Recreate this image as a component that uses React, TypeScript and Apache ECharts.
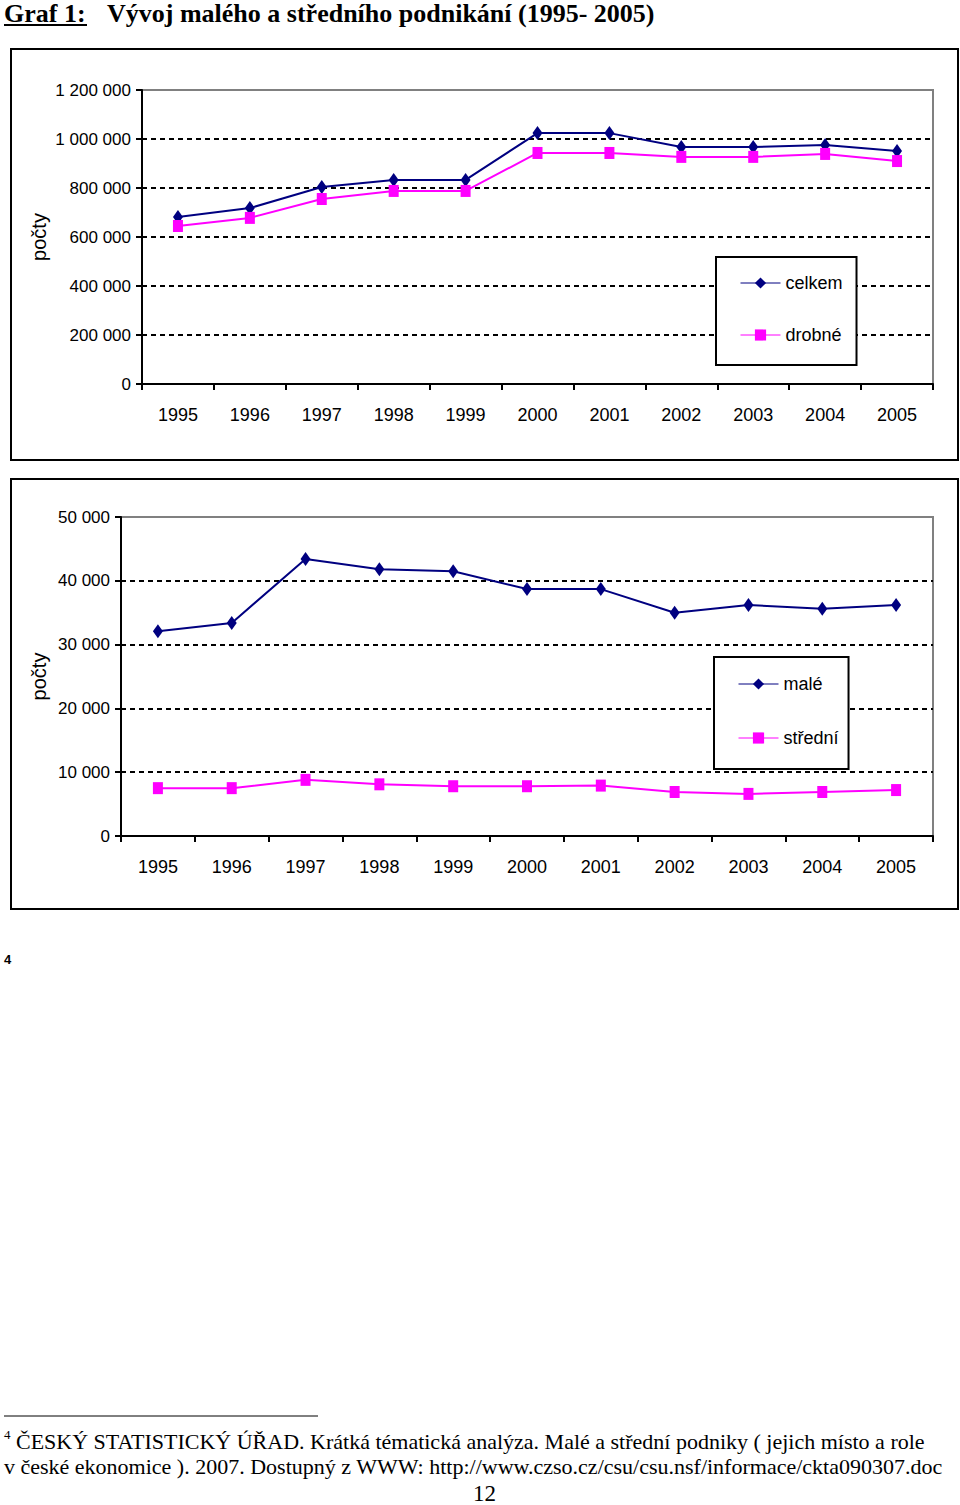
import React, { useEffect, useRef } from "react";
import * as echarts from "echarts";

const years = ["1995", "1996", "1997", "1998", "1999", "2000", "2001", "2002", "2003", "2004", "2005"];
const celkem = [682000, 718000, 804000, 833000, 833000, 1024000, 1024000, 967000, 967000, 976000, 951000];
const drobne = [645000, 678000, 755000, 788000, 788000, 943000, 943000, 927000, 927000, 939000, 910000];
const male = [32100, 33400, 43400, 41800, 41500, 38700, 38700, 35000, 36200, 35600, 36200];
const stredni = [7500, 7500, 8800, 8100, 7800, 7800, 7900, 6900, 6600, 6900, 7200];

const legend1 = ["celkem", "drobné"];
const legend2 = ["malé", "střední"];

const titleLabel = "Graf 1:";
const titleText = "Vývoj malého a středního podnikání (1995- 2005)";
const footLine1 = "ČESKÝ STATISTICKÝ ÚŘAD. Krátká tématická analýza. Malé a střední podniky ( jejich místo a role";
const footLine2 = "v české ekonomice ). 2007. Dostupný z WWW: http://www.czso.cz/csu/csu.nsf/informace/ckta090307.doc";

const SANS = "'Liberation Sans', Arial, sans-serif";
const SERIF = "'Liberation Serif', 'Times New Roman', serif";

const fmt = (v: number) => String(v).replace(/\B(?=(\d{3})+(?!\d))/g, " ");

export default function App() {
  const ref = useRef<HTMLDivElement>(null);
  useEffect(() => {
    document.body.style.margin = "0";
    const chart = echarts.init(ref.current!, null, { renderer: "svg" });

    const xAxisBase = (gi: number) => ({
      type: "category",
      gridIndex: gi,
      data: years,
      boundaryGap: true,
      axisLine: { lineStyle: { color: "#000", width: 2 } },
      axisTick: { show: true, length: 6, lineStyle: { color: "#000", width: 2 } },
      axisLabel: { color: "#000", fontFamily: SANS, fontSize: 18, margin: 22 },
      splitLine: { show: false },
    });
    const yAxisBase = (gi: number, max: number, interval: number, gap: number) => ({
      type: "value",
      gridIndex: gi,
      min: 0,
      max,
      interval,
      name: "počty",
      nameLocation: "middle",
      nameGap: gap,
      nameMoveOverlap: false,
      nameTextStyle: { color: "#000", fontFamily: SANS, fontSize: 20 },
      axisLine: { show: true, lineStyle: { color: "#000", width: 2 } },
      axisTick: { show: true, length: 6, lineStyle: { color: "#000", width: 2 } },
      axisLabel: { color: "#000", fontFamily: SANS, fontSize: 17, margin: 11, formatter: fmt },
      splitLine: { show: true, showMaxLine: false, lineStyle: { color: "#000", width: 2, type: [5, 4] } },
    });
    const legendBase = (data: string[], left: number, top: number, gap: number, pad: number[]) => ({
      data,
      orient: "vertical",
      left,
      top,
      padding: pad,
      itemGap: gap,
      itemWidth: 40,
      itemHeight: 14,
      borderColor: "#000",
      borderWidth: 2,
      backgroundColor: "#fff",
      selectedMode: false,
      textStyle: { color: "#000", fontFamily: SANS, fontSize: 18 },
      lineStyle: { width: 1 },
    });

    chart.setOption({
      animation: false,
      backgroundColor: "#fff",
      grid: [
        { left: 142, top: 90, width: 791, height: 294, show: true, borderColor: "#808080", borderWidth: 2, backgroundColor: "transparent" },
        { left: 121, top: 517, width: 812, height: 319, show: true, borderColor: "#808080", borderWidth: 2, backgroundColor: "transparent" },
      ],
      xAxis: [xAxisBase(0), xAxisBase(1)],
      yAxis: [yAxisBase(0, 1200000, 200000, 93), yAxisBase(1, 50000, 10000, 72)],
      legend: [
        legendBase(legend1, 716, 257, 34, [17, 14, 21, 24]),
        legendBase(legend2, 714, 657, 36, [18, 10, 22, 24]),
      ],
      series: [
        { name: legend1[0], type: "line", xAxisIndex: 0, yAxisIndex: 0, data: celkem, symbol: "diamond", symbolSize: [10, 14], color: "#000080", lineStyle: { width: 2 } },
        { name: legend1[1], type: "line", xAxisIndex: 0, yAxisIndex: 0, data: drobne, symbol: "rect", symbolSize: [10, 12], color: "#FF00FF", lineStyle: { width: 2 } },
        { name: legend2[0], type: "line", xAxisIndex: 1, yAxisIndex: 1, data: male, symbol: "diamond", symbolSize: [10, 14], color: "#000080", lineStyle: { width: 2 } },
        { name: legend2[1], type: "line", xAxisIndex: 1, yAxisIndex: 1, data: stredni, symbol: "rect", symbolSize: [10, 12], color: "#FF00FF", lineStyle: { width: 2 } },
      ],
      graphic: [
        { type: "text", left: 4, top: 0, style: { text: titleLabel, font: `bold 26px ${SERIF}`, fill: "#000" } },
        { type: "line", shape: { x1: 4, y1: 25, x2: 87, y2: 25 }, style: { stroke: "#000", lineWidth: 2 } },
        { type: "text", left: 107, top: 0, style: { text: titleText, font: `bold 26px ${SERIF}`, fill: "#000" } },
        { type: "rect", shape: { x: 11, y: 49, width: 947, height: 411 }, style: { fill: "none", stroke: "#000", lineWidth: 2 }, z: -1 },
        { type: "rect", shape: { x: 11, y: 479, width: 947, height: 430 }, style: { fill: "none", stroke: "#000", lineWidth: 2 }, z: -1 },
        { type: "text", left: 4, top: 953, style: { text: "4", font: `bold 13px ${SANS}`, fill: "#000" } },
        { type: "line", shape: { x1: 4, y1: 1416, x2: 318, y2: 1416 }, style: { stroke: "#000", lineWidth: 1 } },
        { type: "text", left: 4, top: 1428, style: { text: "4", font: `13px ${SERIF}`, fill: "#000" } },
        { type: "text", left: 16, top: 1430, style: { text: footLine1, font: `22px ${SERIF}`, fill: "#000" } },
        { type: "text", left: 4, top: 1455, style: { text: footLine2, font: `22px ${SERIF}`, fill: "#000" } },
        { type: "text", left: 473, top: 1482, style: { text: "12", font: `23px ${SERIF}`, fill: "#000" } },
      ],
    });
    return () => chart.dispose();
  }, []);
  return <div ref={ref} style={{ width: 960, height: 1505 }} />;
}
